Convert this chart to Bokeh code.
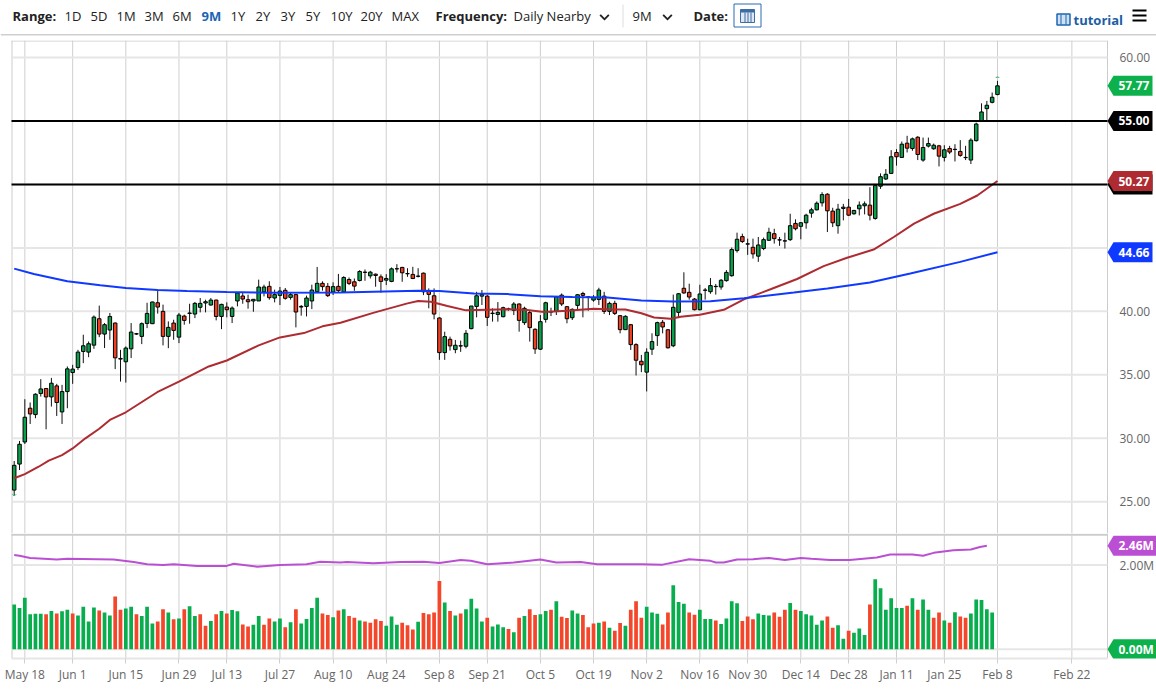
from bokeh.plotting import figure
from bokeh.layouts import column
from bokeh.embed import file_html
from bokeh.resources import INLINE
from bokeh.core.properties import value
from bokeh.models import FixedTicker, ColumnDataSource, Range1d

opens = [25.92,27.97,29.71,32.37,31.87,33.53,33.92,33.26,34.13,32.08,
 33.68,35.18,35.58,36.84,36.79,37.34,39.42,38.21,38.53,39.08,
 36.29,36.03,37.05,38.21,38.03,39.05,39.03,40.68,40.00,38.03,
 39.08,37.97,39.63,39.84,39.79,40.32,40.66,40.50,40.89,39.60,
 40.34,39.60,40.82,41.21,40.92,40.82,40.82,41.53,41.97,41.05,
 41.26,41.66,41.10,41.32,40.34,40.39,40.82,41.55,42.21,41.97,
 41.53,41.97,41.54,42.51,42.33,42.43,43.07,42.80,42.93,42.72,
 42.46,42.36,43.35,43.46,42.96,42.91,42.76,43.01,41.62,41.23,
 39.48,36.75,37.80,36.99,37.27,37.25,38.64,40.39,41.20,41.20,
 39.83,39.76,39.58,40.17,40.08,40.58,39.11,39.90,38.59,37.02,
 39.37,39.95,40.00,41.28,40.37,39.50,40.47,41.41,41.12,40.89,
 40.94,41.20,40.00,40.63,39.66,38.56,38.95,37.38,36.07,35.21,
 37.02,38.09,39.14,38.55,37.29,39.92,41.82,41.50,40.97,40.13,
 41.66,41.55,41.95,41.92,42.42,42.81,44.79,45.89,45.30,45.05,
 44.35,44.95,45.60,46.12,45.62,45.54,45.65,46.93,46.70,46.98,
 47.74,48.00,48.55,49.23,47.90,46.75,48.11,48.21,47.69,48.08,
 48.32,48.37,47.32,49.86,50.43,50.87,52.52,52.13,53.25,52.83,
 53.72,51.92,53.02,52.81,53.04,52.13,52.83,52.75,52.60,52.11,
 51.92,53.45,55.00,55.97,56.47,57.08]
closes = [27.87,29.53,31.66,31.92,33.47,33.89,33.26,34.34,32.82,33.68,
 35.47,35.45,36.79,37.29,37.45,39.55,38.21,38.95,39.60,36.34,
 36.24,37.11,38.37,38.24,39.03,39.84,40.74,40.34,38.03,38.74,
 38.50,39.71,39.29,39.87,40.63,40.63,40.76,40.89,39.60,40.55,
 40.13,40.26,41.45,40.97,40.76,40.95,41.92,41.92,41.08,41.32,
 41.60,41.03,41.32,39.95,40.39,41.05,41.68,42.21,41.95,41.24,
 41.95,41.63,42.67,42.20,41.99,43.14,43.09,43.09,42.83,42.36,
 42.59,43.35,43.36,43.04,42.98,42.59,42.78,41.54,41.34,39.79,
 36.75,38.01,37.28,37.33,37.29,38.27,40.42,41.23,41.33,39.53,
 39.86,39.92,40.29,40.20,40.58,39.29,40.24,38.72,37.04,39.19,
 40.68,39.97,41.15,40.58,39.42,40.16,41.31,41.26,41.14,41.10,
 41.68,40.00,40.63,39.84,38.56,39.61,37.38,36.15,35.79,36.78,
 37.62,39.11,38.77,37.13,40.32,41.39,41.45,41.13,40.13,41.37,
 41.68,42.03,41.97,42.45,43.07,44.87,45.68,45.50,45.32,44.53,
 45.23,45.65,46.23,45.73,45.64,45.56,46.75,46.51,46.98,47.58,
 48.00,48.52,49.20,47.92,46.98,48.05,48.21,47.58,47.95,48.37,
 48.47,47.58,49.91,50.61,50.80,52.18,52.18,53.17,52.86,53.59,
 52.36,52.91,53.22,53.09,52.23,52.73,52.55,52.77,52.29,52.13,
 53.49,54.76,55.71,56.24,56.87,57.77]
highs = [28.21,29.79,33.08,32.82,33.55,34.66,33.97,34.76,34.29,34.21,
 35.66,35.79,36.97,38.16,37.63,39.68,40.45,39.08,39.87,39.13,
 36.97,37.24,39.08,38.30,39.13,40.68,40.76,41.66,40.53,39.21,
 39.34,39.87,39.74,40.60,40.74,41.05,40.92,41.05,40.92,40.60,
 40.71,40.39,41.45,41.45,41.32,40.97,42.50,42.10,42.37,41.71,
 41.92,41.84,41.45,41.37,40.50,41.24,42.10,43.50,42.37,42.24,
 42.29,42.95,42.77,42.67,42.59,43.25,43.30,43.19,42.98,42.91,
 42.93,43.46,43.72,43.51,43.40,43.51,43.40,43.06,41.81,41.81,
 39.53,38.40,38.01,37.75,37.70,38.53,40.42,41.54,41.68,41.28,
 40.24,40.73,40.37,40.29,40.73,40.63,40.37,40.10,38.66,39.71,
 40.76,40.29,41.20,41.41,40.42,40.24,41.36,41.54,41.20,41.28,
 41.86,41.54,40.76,40.84,39.71,39.69,39.01,37.49,36.57,37.09,
 38.27,39.19,39.32,38.59,41.32,41.45,43.08,42.18,41.05,42.10,
 41.84,42.63,42.16,42.55,43.25,45.03,46.20,46.12,45.73,45.73,
 45.86,45.81,46.59,46.51,45.86,46.20,47.69,47.25,47.04,47.69,
 48.16,48.66,49.39,49.31,48.16,48.47,48.47,48.86,48.00,48.66,
 48.66,49.78,50.04,50.87,51.21,52.70,52.78,53.38,53.83,53.69,
 53.80,53.69,53.69,53.22,53.12,53.09,53.04,53.17,53.49,53.04,
 53.64,54.87,56.39,56.58,57.24,58.16]
lows = [25.53,27.50,29.55,31.13,31.58,33.29,30.71,32.50,31.76,31.13,
 32.37,34.29,35.39,35.92,36.39,37.05,37.97,37.11,37.76,35.45,
 34.47,34.39,36.32,38.15,37.42,38.68,39.00,39.82,37.32,37.10,
 37.76,37.50,38.95,39.03,39.47,39.92,39.92,40.45,39.29,38.60,
 39.53,39.08,40.39,40.60,40.21,39.97,40.82,41.18,40.92,40.71,
 40.50,40.92,40.92,38.74,39.66,39.60,40.18,41.45,41.63,41.13,
 41.29,41.45,41.47,42.07,41.62,42.36,42.41,42.59,41.94,41.47,
 42.07,42.30,43.06,42.33,42.72,42.54,42.67,41.28,40.24,39.37,
 36.18,36.18,36.91,36.70,36.81,37.09,38.59,39.53,40.50,38.85,
 39.19,39.19,39.53,40.05,39.71,38.40,38.93,37.62,36.65,36.96,
 39.11,39.63,39.71,40.42,39.06,39.32,40.10,39.53,40.05,40.76,
 40.50,39.79,39.71,39.71,38.27,38.53,36.96,34.95,35.21,33.69,
 36.57,37.28,38.27,37.07,37.18,39.47,41.39,40.92,40.08,40.08,
 40.92,41.39,41.32,41.71,42.34,42.73,44.63,45.39,44.45,44.16,
 43.90,44.82,45.55,45.34,45.16,44.95,45.55,46.38,45.68,46.51,
 47.38,47.95,48.26,46.25,46.64,46.12,47.17,47.51,47.61,47.56,
 47.64,47.17,47.22,49.65,50.35,50.82,51.48,52.08,52.52,52.65,
 51.92,51.79,52.91,52.73,51.42,51.81,52.39,51.81,52.18,51.92,
 51.61,53.38,54.95,55.03,56.39,57.03]

volumes = [1.06,.98,1.22,.83,.84,.84,.83,.91,.85,.90,
 .94,.85,.80,1.01,.66,.99,.92,.87,.80,1.25,
 .94,.97,1.01,.83,.79,1.01,.61,.66,.95,.87,
 .71,.73,.95,1.02,.79,.83,.56,.67,.83,.91,
 .85,.93,.90,.59,.54,.58,.79,.58,.73,.66,
 .73,.52,.64,.95,.61,.72,.98,1.22,.85,.81,
 .76,.92,.95,.79,.75,.68,.66,.63,.71,.67,
 .56,.78,.58,.63,.57,.47,.65,.86,.83,.87,
 1.62,1.11,.91,.80,.85,.95,1.20,.97,.66,.75,
 .54,.59,.52,.48,.40,.75,.79,.95,.81,.83,
 .91,.94,1.14,.77,.74,.92,.85,.81,.52,.61,
 .63,.66,.51,.44,.62,.56,.94,1.14,.75,1.01,
 .87,.84,.59,.87,1.52,1.12,1.08,.87,.82,.94,
 .72,.72,.68,.60,.73,1.14,1.09,.67,.78,.71,
 .85,.81,.80,.87,.77,.94,1.10,.94,.91,.83,
 .80,.58,.68,.78,.51,.57,.25,.44,.39,.49,
 .34,1.06,1.66,1.45,.94,1.21,.98,.98,1.03,1.21,
 .94,1.18,.94,.75,.87,.68,.63,.88,.78,.75,
 .85,1.18,1.17,.95,.87]
volume_dirs = ["g","g","g","g","g","g","r","g","r","g",
 "g","r","g","g","g","g","r","g","g","r",
 "r","g","g","r","g","g","g","r","r","g",
 "r","g","r","g","g","r","r","g","r","g",
 "r","g","g","r","r","g","g","r","r","g",
 "g","r","g","r","g","g","g","g","r","r",
 "g","r","g","r","r","g","r","r","r","r",
 "g","g","g","r","r","r","g","r","r","r",
 "r","g","r","g","r","g","g","g","g","r",
 "g","g","g","r","g","r","g","r","r","g",
 "g","r","g","r","r","g","g","r","r","r",
 "g","r","g","r","r","g","r","r","r","g",
 "g","g","r","r","g","g","g","r","r","g",
 "g","g","r","g","g","g","g","r","r","r",
 "g","g","g","r","r","r","g","r","g","g",
 "g","g","g","r","r","g","g","r","g","g",
 "g","r","g","g","g","g","g","g","r","g",
 "r","g","g","r","r","g","r","g","r","r",
 "g","g","g","g","g"]

ma50_idx = [0,2,4.6,6.5,9,11,13.4,16,18,21,26.9,31,36.6,40,46,50,54.5,58,61.4,67.7,74,76,78.4,81.5,85,89,92.8,96.5,99.7,104,109,111.6,115,118,120.4,123.5,125.4,129,133.5,137.3,142.3,147.3,152.3,156.7,161.7,165.5,169.3,173,178,181.2,185]
ma50_val = [26.85,27.18,27.76,28.24,28.68,29.20,30.00,30.75,31.45,32.05,33.63,34.47,35.66,36.13,37.32,37.95,38.29,38.82,39.10,39.90,40.63,40.81,40.76,40.42,40.08,40.13,40.16,40.10,39.95,40.05,40.21,40.16,40.15,39.85,39.52,39.42,39.58,39.73,40.12,40.95,41.74,42.55,43.56,44.22,44.87,45.86,46.91,47.69,48.47,49.13,50.27]
ma200_idx = [0,3.7,10,16.2,21,27,32.5,40,47.6,61.4,76,80,86.5,92.8,99,105,111.6,118,124,131,137.3,146.7,153,161,168.6,178,185]
ma200_val = [43.37,42.95,42.37,42.05,41.84,41.68,41.60,41.53,41.47,41.48,41.62,41.60,41.41,41.36,41.20,41.13,41.10,40.86,40.77,40.80,41.03,41.48,41.81,42.28,42.99,43.90,44.66]
mavol_idx = [0,1,3,5.6,8,10,15.6,18.7,22.5,25,28,30,34.4,40,41.3,45.7,50,55,57.6,61.4,62.6,67.6,72.7,77,80,84,85.9,89,94,99,102,106.6,109.7,118,122,127,131,132,133.5,136,139,142,145,148,150,153.5,157.2,162.3,164.8,169,171,173,176.7,180,181.7,183]
mavol_val = [2.24,2.22,2.17,2.15,2.13,2.15,2.14,2.13,2.07,2.02,2.00,2.02,1.98,1.98,2.03,1.96,2.00,2.02,2.08,2.06,2.07,2.04,2.07,2.08,2.05,2.12,2.10,2.02,2.06,2.13,2.06,2.07,2.02,2.02,2.01,2.14,2.10,2.06,2.06,2.13,2.14,2.17,2.12,2.17,2.15,2.12,2.12,2.18,2.25,2.25,2.22,2.29,2.35,2.37,2.43,2.46]

tick_idx = [2,11,21,31,40,50,60,70,80,89,99,109,119,129,138,148,157,166,175,185,199]
tick_labels = ["May 18","Jun 1","Jun 15","Jun 29","Jul 13","Jul 27","Aug 10","Aug 24","Sep 8","Sep 21","Oct 5","Oct 19","Nov 2","Nov 16","Nov 30","Dec 14","Dec 28","Jan 11","Jan 25","Feb 8","Feb 22"]
price_grid = [25,30,35,40,45,50,55,60]
price_labelled = [25,30,35,40,60]
vol_grid = [0,2]
vol_labelled = [2]
range_opts = ["1D","5D","1M","3M","6M","9M","1Y","2Y","3Y","5Y","10Y","20Y","MAX"]
level_lines = [55.0, 50.0]

GREEN, RED, BODY_G, BODY_R = "#08ad4e", "#f4462a", "#0a9f4a", "#ef3f20"
BLUE, DRED, PURPLE, PGREEN = "#1039ff", "#ad2b31", "#bb4fd3", "#0cb14b"
FONT = value("Open Sans")
GRID_H, GRID_V, EDGE = "#e6e6e6", "#cfcfcf", "#cccccc"

X0, XPX = 13.7, 5.315                    # page x of bar 0, px per bar
def ix(px):
    return (px - X0) / XPX

n = len(opens)
idx = list(range(n))
FL, FT, FB, VB, PW = 11, 40, 533, 658, 1156
AX = ix(1107)
xr = Range1d(ix(0), ix(PW))
KP, KV = 12.7, 42.0
YP = (22.50, 61.34)
YV = (-0.221, 2.75)

def panel(height, yr, **kw):
    f = figure(frame_width=PW, frame_height=height, x_range=xr, y_range=Range1d(*yr),
               output_backend="svg", toolbar_location=None, y_axis_location=None,
               min_border_left=0, min_border_right=0, min_border_top=0, **kw)
    f.outline_line_color = None
    f.xgrid.visible = False
    f.ygrid.visible = False
    f.segment(x0=tick_idx, x1=tick_idx, y0=[yr[0]]*len(tick_idx), y1=[yr[1]]*len(tick_idx),
              line_color=GRID_V, line_width=1, level="underlay")
    f.segment(x0=[ix(FL+0.5), AX], x1=[ix(FL+0.5), AX], y0=[yr[0]]*2, y1=[yr[1]]*2,
              line_color=EDGE, line_width=1, level="underlay")
    return f

def tick_text(f, ticks, labels):
    f.text([ix(1119)]*len(ticks), ticks, text=labels, text_font=FONT, text_font_size=value("12px"),
           text_color="#666666", text_baseline="middle")

def pill(f, val, fill, text, k, right):
    h_ = 10 / k
    f.patch([AX, ix(1113), ix(right), ix(right), ix(1113)], [val, val+h_, val+h_, val-h_, val-h_],
            fill_color=fill, line_color=None)
    if text:
        f.text([ix(1118)], [val], text=[text], text_font=FONT, text_font_size=value("12px"),
               text_font_style="bold", text_color="white", text_baseline="middle")

# header strip, in page pixels
h = figure(frame_width=PW, frame_height=FT, x_range=Range1d(0, PW), y_range=Range1d(FT, 0),
           output_backend="svg", toolbar_location=None, x_axis_location=None, y_axis_location=None,
           min_border=0)
h.outline_line_color = None
h.xgrid.visible = False
h.ygrid.visible = False
def txt(px, py, text, bold=False, color="#222222", size="13px"):
    h.text([px], [py], text=[text], text_font=FONT, text_font_size=value(size),
           text_font_style="bold" if bold else "normal", text_color=color, text_baseline="middle")
def box(l, t, r, b, fill, line=None, lw=1):
    h.quad(left=[l], right=[r], top=[t], bottom=[b], fill_color=fill, line_color=line, line_width=lw)
h.quad(left=[0], right=[PW], top=[33.5], bottom=[35], fill_color="#cfcfcf", line_color=None)
txt(12, 15, "Range:", bold=True)
for label, px in zip(range_opts, [64,90,116,144,172,201,230,255,280,305,330,360,391]):
    if label == "9M":
        txt(px, 15, label, bold=True, color="#1b66b3")
    else:
        txt(px, 15, label)
txt(435, 15, "Frequency:", bold=True)
txt(513, 15, "Daily Nearby")
txt(632, 15, "9M")
txt(693, 15, "Date:", bold=True)
for cx, cy in ((604, 17), (667, 17)):
    h.patch([cx-5, cx-3.7, cx, cx+3.7, cx+5, cx], [cy-2, cy-3.2, cy+0.5, cy-3.2, cy-2, cy+3],
            fill_color="#222222", line_color=None)
box(622, 4, 623, 27, "#dddddd")
box(733.5, 3.5, 760.5, 26.5, "#ffffff", "#2a6db0", 1)
box(740, 9, 754, 22, "#dfe8f3", "#3a6ea5", 1)
box(740, 9, 754, 12, "#3a6ea5")
for gx in (744, 747, 750):
    box(gx, 12, gx+1, 22, "#3a6ea5")
box(1056.5, 13.5, 1069.5, 24.5, "#cfe0f2", "#1b66b3", 1.5)
box(1060, 14, 1061, 24, "#1b66b3")
box(1065, 14, 1066, 24, "#1b66b3")
txt(1073, 19, "tutorial", bold=True, color="#1b5ea6")
for hy in (10, 15, 20):
    box(1132, hy-1, 1146, hy+1, "#000000")

# price panel
p = panel(FB-FT, YP, x_axis_location=None, min_border_bottom=0)
p.segment(x0=[ix(FL)]*len(price_grid), x1=[AX]*len(price_grid), y0=price_grid, y1=price_grid,
          line_color=GRID_H, line_width=2, level="underlay")
p.segment(x0=[ix(FL)], x1=[AX], y0=[YP[1]-0.04], y1=[YP[1]-0.04], line_color=EDGE, line_width=1, level="underlay")
tick_text(p, price_labelled, [f"{t:.2f}" for t in price_labelled])

up = [c >= o for o, c in zip(opens, closes)]
src = ColumnDataSource(dict(x=idx, o=opens, c=closes, h=highs, l=lows,
                            col=[BODY_G if u else BODY_R for u in up]))
p.segment("x", "h", "x", "l", source=src, line_color="#111111", line_width=1)
p.vbar("x", 0.66, "o", "c", source=src, fill_color="col", line_color="#000000", line_width=1)
p.line(ma50_idx, ma50_val, line_color=DRED, line_width=2)
p.line(ma200_idx, ma200_val, line_color=BLUE, line_width=2)
p.segment(x0=[ix(FL)]*2, x1=[AX]*2, y0=level_lines, y1=level_lines, line_color="#000000", line_width=2)
p.arc([n-1], [highs[-1]+0.15], radius=2, radius_units="screen", start_angle=0.5, end_angle=2.64,
      line_color=GREEN, line_width=1)
p.arc([0], [lows[0]+0.12], radius=2, radius_units="screen", start_angle=3.64, end_angle=5.78,
      line_color=GREEN, line_width=1)
pill(p, level_lines[1], "#000000", "", KP, 1152)
pill(p, closes[-1], PGREEN, f"{closes[-1]:.2f}", KP, 1152)
pill(p, level_lines[0], "#000000", f"{level_lines[0]:.2f}", KP, 1152)
pill(p, ma50_val[-1], DRED, f"{ma50_val[-1]:.2f}", KP, 1152)
pill(p, ma200_val[-1], BLUE, f"{ma200_val[-1]:.2f}", KP, 1152)

# volume panel
q = panel(VB-FB, YV, min_border_bottom=27)
q.segment(x0=[ix(FL)]*len(vol_grid), x1=[AX]*len(vol_grid), y0=vol_grid, y1=vol_grid,
          line_color=GRID_H, line_width=2, level="underlay")
q.segment(x0=[ix(FL)], x1=[AX], y0=[2.72], y1=[2.72], line_color=EDGE, line_width=2, level="underlay")
tick_text(q, vol_labelled, [f"{t:.2f}M" for t in vol_labelled])
xa = q.xaxis[0]
xa.ticker = FixedTicker(ticks=tick_idx)
xa.major_label_overrides = dict(zip(tick_idx, tick_labels))
xa.bounds = (ix(FL), AX)
xa.major_tick_out, xa.major_tick_in = 5, 0
xa.minor_tick_line_color = None
xa.major_tick_line_color = GRID_V
xa.axis_line_color = GRID_H
xa.axis_line_width = 2
xa.major_label_text_font = "Open Sans"
xa.major_label_text_font_size = "12px"
xa.major_label_text_color = "#666666"
xa.major_label_standoff = 2
vsrc = ColumnDataSource(dict(x=idx[:len(volumes)], v=volumes,
                             col=[GREEN if d == "g" else RED for d in volume_dirs]))
q.vbar("x", 0.7, 0, "v", source=vsrc, fill_color="col", line_color=None)
q.line(mavol_idx, mavol_val, line_color=PURPLE, line_width=2)
pill(q, mavol_val[-1], PURPLE, f"{mavol_val[-1]:.2f}M", KV, 1156)
pill(q, 0.0, PGREEN, "0.00M", KV, 1156)

out = column(h, p, q, spacing=0)
open("out.html", "w").write(file_html(out, INLINE))
